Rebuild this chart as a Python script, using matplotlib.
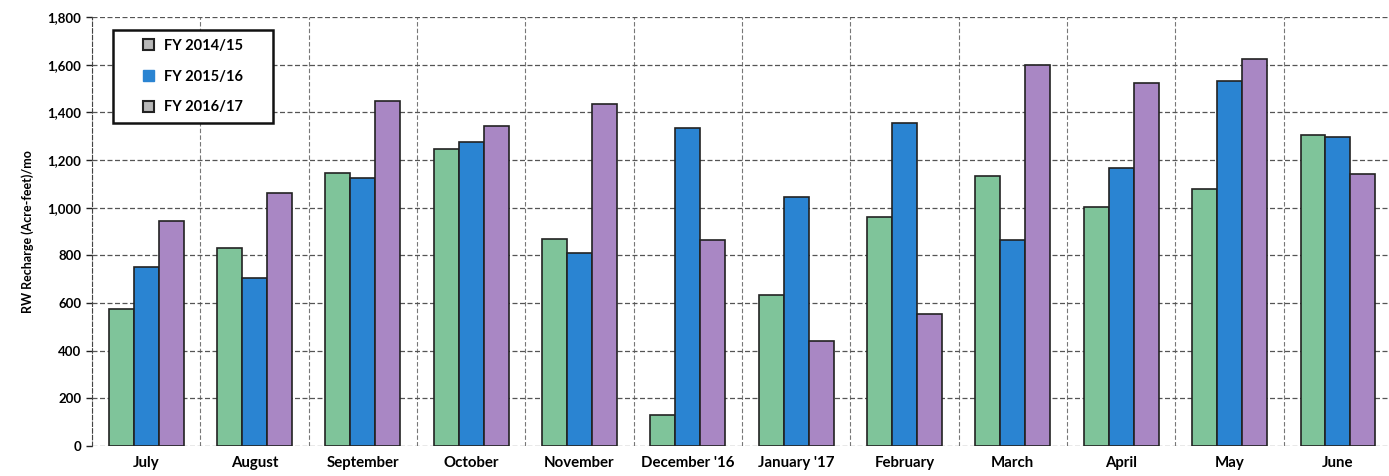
import numpy as np
import matplotlib
matplotlib.use("Agg")
import matplotlib.pyplot as plt
from matplotlib.patches import Patch, Rectangle
from matplotlib.ticker import FuncFormatter, MultipleLocator

months = ["July", "August", "September", "October", "November", "December '16",
          "January '17", "February", "March", "April", "May", "June"]
series = ["FY 2014/15", "FY 2015/16", "FY 2016/17"]
fy1415 = [575, 830, 1145, 1245, 870, 130, 635, 960, 1135, 1005, 1080, 1305]
fy1516 = [750, 705, 1125, 1275, 810, 1335, 1045, 1355, 865, 1165, 1530, 1295]
fy1617 = [945, 1060, 1450, 1345, 1435, 865, 440, 555, 1600, 1525, 1625, 1140]
colors = ["#7fc49a", "#2a84d2", "#a987c4"]

plt.rcParams['font.family'] = ['Lato', 'DejaVu Sans']

fig = plt.figure(figsize=(13.89, 4.76), dpi=100)
ax = fig.add_axes([0.0662, 0.063, 0.936, 0.901])

x = np.arange(len(months))
w = 0.23
for i, vals in enumerate([fy1415, fy1516, fy1617]):
    ax.bar(x + (i - 1) * w, vals, w, color=colors[i], edgecolor="#222222",
           linewidth=1.2, zorder=3)

ax.set_xlim(-0.5, len(months) - 0.5)
ax.set_ylim(0, 1800)
ax.yaxis.set_major_locator(MultipleLocator(200))
ax.yaxis.set_major_formatter(FuncFormatter(lambda v, p: f"{int(v):,}"))
ax.set_xticks(x)
ax.set_xticklabels(months, fontweight="bold", fontsize=10.8)
for lab in ax.get_yticklabels():
    lab.set_fontweight("bold")
    lab.set_fontsize(9.5)
ax.tick_params(axis="x", length=0, pad=7)
ax.tick_params(axis="y", length=4, width=1, color="#222222")

# gridlines
ax.set_xticks(np.arange(len(months) + 1) - 0.5, minor=True)
ax.grid(axis="y", which="major", linestyle=(0, (4, 2)), color="#555555", linewidth=0.9, zorder=0)
ax.grid(axis="x", which="minor", linestyle=(0, (4, 2)), color="#777777", linewidth=0.8, zorder=0)
ax.tick_params(axis="x", which="minor", length=0)
for s in ["top", "right", "bottom"]:
    ax.spines[s].set_visible(False)
ax.spines["left"].set_linestyle((0, (4, 2)))
ax.spines["left"].set_color("#444444")

ax.set_ylabel("RW Recharge (Acre-feet)/mo", fontweight="bold", fontsize=9, labelpad=10)

# legend box drawn by hand so the entries sit centred in a wider frame
box = Rectangle((0.016, 0.753), 0.123, 0.217, transform=ax.transAxes,
                facecolor="white", edgecolor="#111111", linewidth=1.8, zorder=4)
ax.add_patch(box)
handles = [Patch(facecolor="#b8b8b8", edgecolor="#222222", linewidth=1.5),
           Patch(facecolor=colors[1], edgecolor=colors[1]),
           Patch(facecolor="#b8b8b8", edgecolor="#222222", linewidth=1.5)]
leg = ax.legend(handles, series, loc="center", bbox_to_anchor=(0.0775, 0.8615),
                frameon=False, prop={"weight": "bold", "size": 10.5},
                handlelength=0.75, handleheight=0.75, labelspacing=1.15,
                handletextpad=0.7, borderpad=0)
leg.set_zorder(5)

fig.savefig("out.png", dpi=100)
